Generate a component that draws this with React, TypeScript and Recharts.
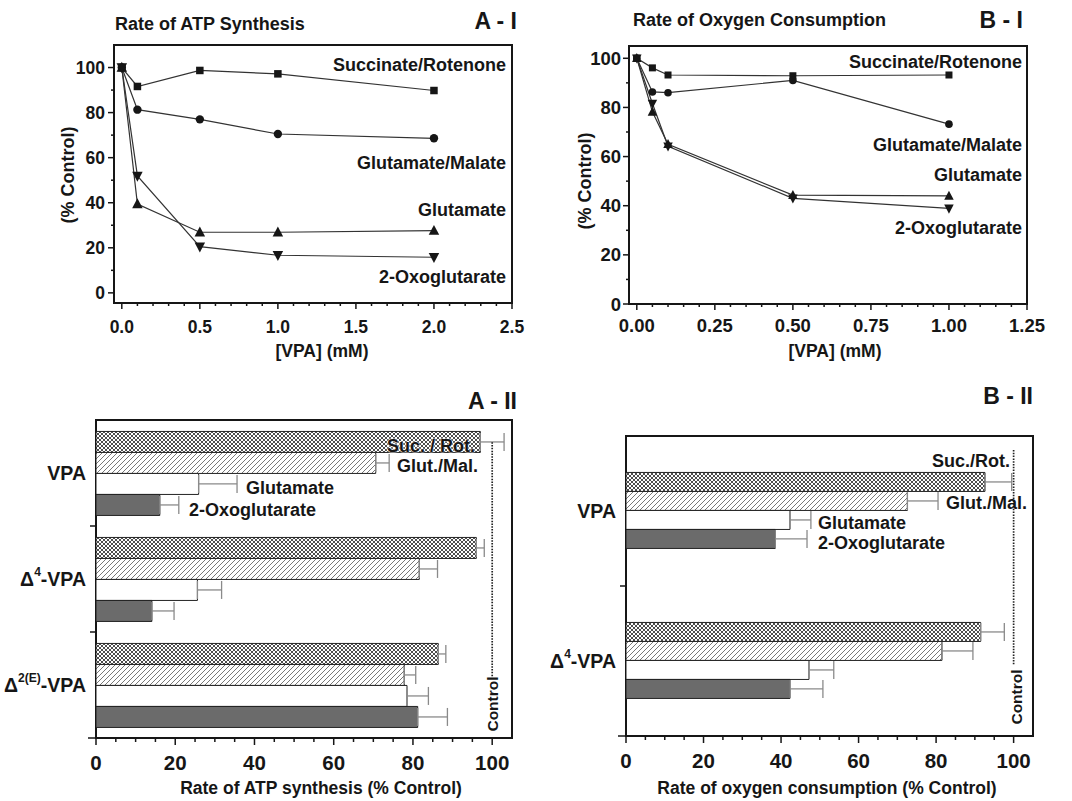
import React from "react";
import {
  LineChart,
  Line,
  BarChart,
  Bar,
  XAxis,
  YAxis,
  ErrorBar,
  ReferenceLine,
  ReferenceArea,
} from "recharts";

const FONT = "'Liberation Sans', Arial, sans-serif";
const INK = "#161616";

// A-I  rate of ATP synthesis vs [VPA] (mM)
const atpDose = [0, 0.1, 0.5, 1, 2];
const atpSucRot = [100, 91.6, 98.7, 97.2, 89.8];
const atpGlutMal = [100, 81.3, 77, 70.5, 68.6];
const atpGlut = [100, 39.4, 26.9, 26.9, 27.6];
const atpOxo = [100, 51.9, 20.5, 16.7, 15.8];

// B-I  rate of oxygen consumption vs [VPA] (mM)
const oxDose = [0, 0.05, 0.1, 0.5, 1];
const oxSucRot = [100, 96.1, 93.2, 92.9, 93.2];
const oxGlutMal = [100, 86.3, 86, 91, 73.2];
const oxGlut = [100, 78.2, 65, 44.3, 44];
const oxOxo = [100, 81.6, 64.2, 43, 38.9];

// tick positions (major + minor)
const aiXTicks = [0, 0.1, 0.2, 0.3, 0.4, 0.5, 0.6, 0.7, 0.8, 0.9, 1, 1.1, 1.2, 1.3, 1.4, 1.5, 1.6, 1.7, 1.8, 1.9, 2, 2.1, 2.2, 2.3, 2.4, 2.5];
const biXTicks = [0, 0.05, 0.1, 0.15, 0.2, 0.25, 0.3, 0.35, 0.4, 0.45, 0.5, 0.55, 0.6, 0.65, 0.7, 0.75, 0.8, 0.85, 0.9, 0.95, 1, 1.05, 1.1, 1.15, 1.2, 1.25];
const pctTicks = [0, 10, 20, 30, 40, 50, 60, 70, 80, 90, 100];
const barTicks = [0, 5, 10, 15, 20, 25, 30, 35, 40, 45, 50, 55, 60, 65, 70, 75, 80, 85, 90, 95, 100];

// A-II  ATP synthesis (% control), values and + error
const atpDrugs = ["VPA", "Δ4-VPA", "Δ2(E)-VPA"];
const atpBarSucRot = [97, 96, 86.4];
const atpBarSucRotErr = [6, 2, 1.9];
const atpBarGlutMal = [70.6, 81.6, 77.8];
const atpBarGlutMalErr = [3.4, 4.6, 2.9];
const atpBarGlut = [25.9, 25.6, 78.5];
const atpBarGlutErr = [9.7, 6.1, 5.4];
const atpBarOxo = [16.1, 14.1, 81.2];
const atpBarOxoErr = [4.8, 5.6, 7.5];

// B-II  oxygen consumption (% control)
const oxDrugs = ["VPA", "Δ4-VPA"];
const oxBarSucRot = [92.6, 91.5];
const oxBarSucRotErr = [6.9, 6.1];
const oxBarGlutMal = [72.6, 81.5];
const oxBarGlutMalErr = [7.9, 8];
const oxBarGlut = [42.3, 47.2];
const oxBarGlutErr = [5.4, 6.4];
const oxBarOxo = [38.5, 42.3];
const oxBarOxoErr = [8.2, 8.5];

const lineRows = (dose: number[], sr: number[], gm: number[], glu: number[], oxo: number[]) =>
  dose.map((x, i) => ({ x, sr: sr[i], gm: gm[i], glu: glu[i], oxo: oxo[i] }));

const barRows = (
  names: string[],
  sr: number[], srE: number[],
  gm: number[], gmE: number[],
  glu: number[], gluE: number[],
  oxo: number[], oxoE: number[]
) =>
  names.map((name, i) => ({
    name,
    sr: sr[i], srE: [0, srE[i]],
    gm: gm[i], gmE: [0, gmE[i]],
    glu: glu[i], gluE: [0, gluE[i]],
    oxo: oxo[i], oxoE: [0, oxoE[i]],
  }));

const atpLines = lineRows(atpDose, atpSucRot, atpGlutMal, atpGlut, atpOxo);
const oxLines = lineRows(oxDose, oxSucRot, oxGlutMal, oxGlut, oxOxo);
const atpBars = barRows(atpDrugs, atpBarSucRot, atpBarSucRotErr, atpBarGlutMal, atpBarGlutMalErr, atpBarGlut, atpBarGlutErr, atpBarOxo, atpBarOxoErr);
const oxBars = barRows(oxDrugs, oxBarSucRot, oxBarSucRotErr, oxBarGlutMal, oxBarGlutMalErr, oxBarGlut, oxBarGlutErr, oxBarOxo, oxBarOxoErr);

// markers
const square = (s: number) => (p: any) => (
  <rect key={`s${p.index}`} x={p.cx - s / 2} y={p.cy - s / 2} width={s} height={s} fill={INK} />
);
const circle = (r: number) => (p: any) => <circle key={`c${p.index}`} cx={p.cx} cy={p.cy} r={r} fill={INK} />;
const triUp = (s: number) => (p: any) => (
  <path key={`u${p.index}`} d={`M${p.cx},${p.cy - s * 0.55}L${p.cx + s / 2},${p.cy + s * 0.4}L${p.cx - s / 2},${p.cy + s * 0.4}Z`} fill={INK} />
);
const triDown = (s: number) => (p: any) => (
  <path key={`d${p.index}`} d={`M${p.cx},${p.cy + s * 0.55}L${p.cx + s / 2},${p.cy - s * 0.4}L${p.cx - s / 2},${p.cy - s * 0.4}Z`} fill={INK} />
);

type TickOpts = { axis: "x" | "y"; step: number; digits: number; fs: number; major: number; minor: number; off: number };
const numTick = (o: TickOpts) => (p: any) => {
  const v = Number(p.payload.value);
  const isMajor = Math.abs(v / o.step - Math.round(v / o.step)) < 1e-6;
  const len = isMajor ? o.major : o.minor;
  const label = v.toFixed(o.digits);
  if (o.axis === "x") {
    return (
      <g>
        <line x1={p.x} x2={p.x} y1={p.y} y2={p.y + len} stroke={INK} strokeWidth={1.5} />
        {isMajor && (
          <text x={p.x} y={p.y + o.off} textAnchor="middle" dominantBaseline="central" fontSize={o.fs} fontWeight="bold" fontFamily={FONT} fill={INK}>
            {label}
          </text>
        )}
      </g>
    );
  }
  return (
    <g>
      <line x1={p.x - len} x2={p.x} y1={p.y} y2={p.y} stroke={INK} strokeWidth={1.5} />
      {isMajor && (
        <text x={p.x - o.off} y={p.y} textAnchor="end" dominantBaseline="central" fontSize={o.fs} fontWeight="bold" fontFamily={FONT} fill={INK}>
          {label}
        </text>
      )}
    </g>
  );
};

const drugTick = (band: number, count: number, fs: number) => (p: any) => {
  const name: string = String(p.payload.value);
  const m = name.match(/^Δ(.+)-VPA$/);
  return (
    <g>
      {p.index > 0 && <line x1={p.x - 6} x2={p.x} y1={p.y - band / 2} y2={p.y - band / 2} stroke={INK} strokeWidth={1.5} />}
      {p.index === count - 1 && <line x1={p.x - 8} x2={p.x} y1={p.y + band / 2} y2={p.y + band / 2} stroke={INK} strokeWidth={1.5} />}
      <text x={p.x - 10} y={p.y} textAnchor="end" dominantBaseline="central" fontSize={fs} fontWeight="bold" fontFamily={FONT} fill={INK}>
        {m ? (
          <>
            <tspan>Δ</tspan>
            <tspan fontSize={fs * 0.62} dy={-fs * 0.38}>{m[1]}</tspan>
            <tspan dy={fs * 0.38}>-VPA</tspan>
          </>
        ) : (
          name
        )}
      </text>
    </g>
  );
};

// dotted "Control" line at x = 100, drawn over part of the plot height only
const controlLine = (f0: number, f1: number) => (p: any) => {
  const ya = Math.min(p.y1, p.y2);
  const h = Math.abs(p.y2 - p.y1);
  return (
    <line x1={p.x1} x2={p.x2} y1={ya + f0 * h} y2={ya + f1 * h} stroke="#222" strokeWidth={1.7} strokeDasharray="1.5 1.3" />
  );
};

const Patterns = ({ id }: { id: string }) => (
  <defs>
    <pattern id={`xh-${id}`} width="4" height="4" patternUnits="userSpaceOnUse">
      <rect width="4" height="4" fill="#fff" />
      <path d="M0,0L4,4M4,0L0,4" stroke="#3a3a3a" strokeWidth="0.9" />
    </pattern>
    <pattern id={`dg-${id}`} width="5" height="5" patternUnits="userSpaceOnUse">
      <rect width="5" height="5" fill="#fff" />
      <path d="M-1,6L6,-1M-1,1L1,-1M4,6L6,4" stroke="#555" strokeWidth="0.8" />
    </pattern>
  </defs>
);

function Txt({ x, y, fs, anchor = "start", rotate = false, halo = false, children }: any) {
  const tx = anchor === "end" ? "-100%" : anchor === "middle" ? "-50%" : "0";
  return (
    <div
      style={{
        position: "absolute",
        left: x,
        top: y,
        fontFamily: FONT,
        fontWeight: "bold",
        fontSize: fs,
        lineHeight: 1,
        whiteSpace: "nowrap",
        color: INK,
        transform: rotate ? "translate(-50%,-50%) rotate(-90deg)" : `translate(${tx},-50%)`,
        textShadow: halo ? "0 0 2px #fff, 0 0 2px #fff" : undefined,
      }}
    >
      {children}
    </div>
  );
}

function DoseChart({ data, xDomain, xTicks, yDomain, step, digits, fs, marker, width, height, margin, yWidth, xHeight, xOff, yOff }: any) {
  return (
    <LineChart width={width} height={height} data={data} margin={margin}>
      <XAxis
        type="number"
        dataKey="x"
        domain={xDomain}
        ticks={xTicks}
        allowDataOverflow
        axisLine={false}
        tickLine={false}
        tickSize={0}
        tickMargin={0}
        height={xHeight}
        interval={0}
        tick={numTick({ axis: "x", step, digits, fs, major: 6, minor: 3, off: xOff })}
      />
      <YAxis
        type="number"
        domain={yDomain}
        ticks={pctTicks}
        allowDataOverflow
        axisLine={false}
        tickLine={false}
        tickSize={0}
        tickMargin={0}
        width={yWidth}
        interval={0}
        tick={numTick({ axis: "y", step: 20, digits: 0, fs, major: 6, minor: 3, off: yOff })}
      />
      <ReferenceArea x1={xDomain[0]} x2={xDomain[1]} y1={yDomain[0]} y2={yDomain[1]} fill="none" stroke={INK} strokeWidth={2} ifOverflow="visible" />
      <Line type="linear" dataKey="sr" stroke="#333" strokeWidth={1.2} dot={square(marker.sq)} activeDot={false} isAnimationActive={false} />
      <Line type="linear" dataKey="gm" stroke="#333" strokeWidth={1.2} dot={circle(marker.r)} activeDot={false} isAnimationActive={false} />
      <Line type="linear" dataKey="glu" stroke="#333" strokeWidth={1.2} dot={triUp(marker.tri)} activeDot={false} isAnimationActive={false} />
      <Line type="linear" dataKey="oxo" stroke="#333" strokeWidth={1.2} dot={triDown(marker.tri)} activeDot={false} isAnimationActive={false} />
    </LineChart>
  );
}

function DrugChart({ id, data, width, height, margin, gap, pad, band, ctrl }: any) {
  return (
    <BarChart width={width} height={height} data={data} layout="vertical" margin={margin} barCategoryGap={gap} barGap={0}>
      <Patterns id={id} />
      <XAxis
        type="number"
        domain={[0, 105]}
        ticks={barTicks}
        allowDataOverflow
        axisLine={false}
        tickLine={false}
        tickSize={0}
        tickMargin={0}
        height={40}
        interval={0}
        tick={numTick({ axis: "x", step: 20, digits: 0, fs: 20.5, major: 7, minor: 4, off: 24 })}
      />
      <YAxis
        type="category"
        dataKey="name"
        axisLine={false}
        tickLine={false}
        tickSize={0}
        tickMargin={0}
        width={96}
        padding={pad}
        interval={0}
        tick={drugTick(band, data.length, 19.5)}
      />
      <ReferenceArea x1={0} x2={105} fill="none" stroke={INK} strokeWidth={2} ifOverflow="visible" />
      <Bar dataKey="sr" fill={`url(#xh-${id})`} stroke="#222" strokeWidth={1} isAnimationActive={false}>
        <ErrorBar dataKey="srE" direction="x" width={9} stroke="#8a8a8a" strokeWidth={1.3} />
      </Bar>
      <Bar dataKey="gm" fill={`url(#dg-${id})`} stroke="#222" strokeWidth={1} isAnimationActive={false}>
        <ErrorBar dataKey="gmE" direction="x" width={9} stroke="#8a8a8a" strokeWidth={1.3} />
      </Bar>
      <Bar dataKey="glu" fill="#fff" stroke="#222" strokeWidth={1} isAnimationActive={false}>
        <ErrorBar dataKey="gluE" direction="x" width={9} stroke="#8a8a8a" strokeWidth={1.3} />
      </Bar>
      <Bar dataKey="oxo" fill="#6b6b6b" stroke="#222" strokeWidth={1} isAnimationActive={false}>
        <ErrorBar dataKey="oxoE" direction="x" width={9} stroke="#8a8a8a" strokeWidth={1.3} />
      </Bar>
      <ReferenceLine x={100} ifOverflow="visible" shape={controlLine(ctrl[0], ctrl[1])} />
    </BarChart>
  );
}

export default function App() {
  return (
    <div style={{ position: "absolute", left: 0, top: 0, width: 1072, height: 801, background: "#fff", overflow: "hidden" }}>
      <div style={{ position: "absolute", left: 0, top: 0 }}>
        <DoseChart
          data={atpLines}
          xDomain={[-0.05, 2.5]}
          xTicks={aiXTicks}
          yDomain={[-4.5, 110]}
          step={0.5}
          digits={1}
          fs={17.5}
          marker={{ sq: 7.5, r: 4.2, tri: 10.5 }}
          width={530}
          height={360}
          margin={{ top: 45, right: 18, bottom: 0, left: 0 }}
          yWidth={114}
          xHeight={57}
          xOff={24}
          yOff={9}
        />
      </div>
      <div style={{ position: "absolute", left: 530, top: 0 }}>
        <DoseChart
          data={oxLines}
          xDomain={[-0.025, 1.25]}
          xTicks={biXTicks}
          yDomain={[0, 105]}
          step={0.25}
          digits={2}
          fs={18.5}
          marker={{ sq: 7, r: 3.8, tri: 9.5 }}
          width={542}
          height={360}
          margin={{ top: 46, right: 45, bottom: 0, left: 0 }}
          yWidth={99}
          xHeight={56}
          xOff={21}
          yOff={8}
        />
      </div>
      <div style={{ position: "absolute", left: 0, top: 360 }}>
        <DrugChart
          id="a"
          data={atpBars}
          width={530}
          height={441}
          margin={{ top: 60, right: 18, bottom: 23, left: 0 }}
          gap="10.8%"
          pad={{ top: 0, bottom: 0 }}
          band={106}
          ctrl={[0.07, 0.81]}
        />
      </div>
      <div style={{ position: "absolute", left: 530, top: 360 }}>
        <DrugChart
          id="b"
          data={oxBars}
          width={542}
          height={441}
          margin={{ top: 60, right: 39, bottom: 25, left: 0 }}
          gap="24.3%"
          pad={{ top: 16, bottom: 0 }}
          band={150}
          ctrl={[0.095, 0.775]}
        />
      </div>

      {/* A-I text */}
      <Txt x={115} y={24} fs={18}>Rate of ATP Synthesis</Txt>
      <Txt x={517} y={21} fs={23} anchor="end">A - I</Txt>
      <Txt x={68} y={175} fs={18}>{""}</Txt>
      <Txt x={68} y={175} fs={18} rotate>(% Control)</Txt>
      <Txt x={322} y={352} fs={17.5} anchor="middle">[VPA] (mM)</Txt>
      <Txt x={506} y={65} fs={18} anchor="end">Succinate/Rotenone</Txt>
      <Txt x={506} y={163} fs={18} anchor="end">Glutamate/Malate</Txt>
      <Txt x={506} y={210} fs={18} anchor="end">Glutamate</Txt>
      <Txt x={506} y={277} fs={18} anchor="end">2-Oxoglutarate</Txt>

      {/* B-I text */}
      <Txt x={633} y={20} fs={18}>Rate of Oxygen Consumption</Txt>
      <Txt x={1023} y={20} fs={23} anchor="end">B - I</Txt>
      <Txt x={585} y={181} fs={18} rotate>(% Control)</Txt>
      <Txt x={835} y={352} fs={17.5} anchor="middle">[VPA] (mM)</Txt>
      <Txt x={1022} y={62} fs={18} anchor="end">Succinate/Rotenone</Txt>
      <Txt x={1022} y={145} fs={18} anchor="end">Glutamate/Malate</Txt>
      <Txt x={1022} y={175} fs={18} anchor="end">Glutamate</Txt>
      <Txt x={1022} y={228} fs={18} anchor="end">2-Oxoglutarate</Txt>

      {/* A-II text */}
      <Txt x={517} y={401} fs={23} anchor="end">A - II</Txt>
      <Txt x={387} y={446} fs={18} halo>Suc. / Rot.</Txt>
      <Txt x={397} y={466} fs={18}>Glut./Mal.</Txt>
      <Txt x={246} y={488} fs={18}>Glutamate</Txt>
      <Txt x={189} y={510} fs={18}>2-Oxoglutarate</Txt>
      <Txt x={493} y={704} fs={15.5} rotate>Control</Txt>
      <Txt x={321} y={789} fs={17.5} anchor="middle">Rate of ATP synthesis (% Control)</Txt>

      {/* B-II text */}
      <Txt x={1033} y={396} fs={23} anchor="end">B - II</Txt>
      <Txt x={1010} y={461} fs={18} anchor="end">Suc./Rot.</Txt>
      <Txt x={946} y={503} fs={18}>Glut./Mal.</Txt>
      <Txt x={818} y={523} fs={18}>Glutamate</Txt>
      <Txt x={818} y={543} fs={18}>2-Oxoglutarate</Txt>
      <Txt x={1017} y={697} fs={15.5} rotate>Control</Txt>
      <Txt x={827} y={789} fs={17.5} anchor="middle">Rate of oxygen consumption (% Control)</Txt>
    </div>
  );
}
